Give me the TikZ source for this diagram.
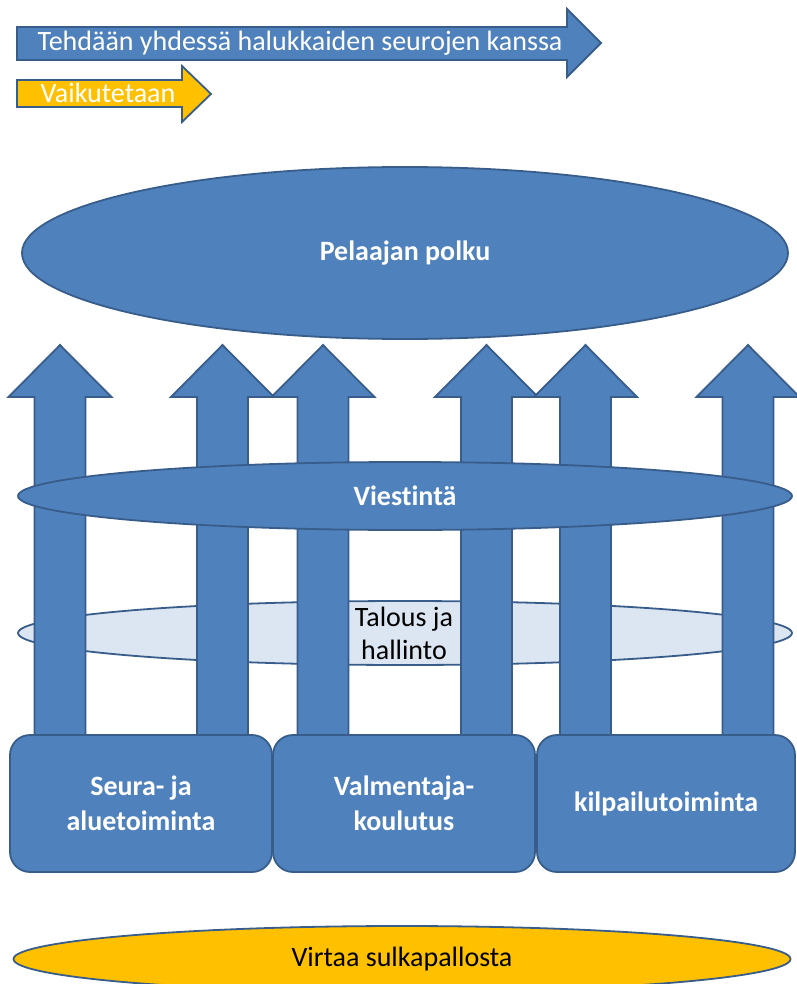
\documentclass[tikz,border=0pt]{standalone}
\usepackage{fontspec}
\setmainfont{Carlito}[Ligatures=NoCommon]
\usetikzlibrary{shapes.geometric}
\definecolor{bfill}{HTML}{4F81BD}
\definecolor{bline}{HTML}{385D8A}
\definecolor{yfill}{HTML}{FFC000}
\definecolor{lfill}{HTML}{DCE6F2}
\tikzset{
  shapesty/.style={fill=bfill, draw=bline, line width=1.8pt, line join=miter},
  bigell/.style={ellipse, shapesty, inner sep=0pt, text=white, font=\fontsize{28}{34}\selectfont\bfseries},
  lightell/.style={ellipse, fill=lfill, draw=bline, line width=1.8pt, inner sep=0pt},
  yell/.style={ellipse, fill=yfill, draw=bline, line width=1.8pt, inner sep=0pt, font=\fontsize{28}{34}\selectfont},
  boxsty/.style={rectangle, rounded corners=20pt, shapesty, inner sep=0pt, text=white, align=center, font=\fontsize{28}{35}\selectfont\bfseries},
  arrtext/.style={text=white, inner sep=0pt, font=\fontsize{28}{34}\selectfont},
}
\begin{document}
\begin{tikzpicture}[x=1pt,y=-1pt]
\useasboundingbox (0,0) rectangle (796,984);
% top horizontal arrows
\path[shapesty] (17,27) -- (567,27) -- (567,9) -- (601,43) -- (567,77) -- (567,60) -- (17,60) -- cycle;
\node[arrtext] (tehd) at (300,43) {Tehdään yhdessä halukkaiden seurojen kanssa};
\path[shapesty, fill=yfill] (17,80) -- (182,80) -- (182,66) -- (211,94) -- (182,122) -- (182,107) -- (17,107) -- cycle;
\node[arrtext] (vaik) at (108,93) {Vaikutetaan};
% Pelaajan polku
\node[bigell, minimum width=766pt, minimum height=172pt] (polku) at (405,253) {Pelaajan polku};
% Talous ja hallinto
\node[lightell, minimum width=774pt, minimum height=64pt] (talous) at (405,633) {};
% upward arrows
\foreach \c in {60,222.5,323,486.5,585.5,748}{
  \path[shapesty] ({\c-25.5},736) -- ({\c-25.5},397) -- ({\c-51.5},397) -- (\c,345) -- ({\c+51.5},397) -- ({\c+25.5},397) -- ({\c+25.5},736) -- cycle;
}
\node[align=center, inner sep=0pt, font=\fontsize{28}{33}\selectfont] (talt) at (404,633) {Talous ja\\hallinto};
% Viestinta
\node[bigell, minimum width=774pt, minimum height=68pt] (viest) at (405,496) {Viestintä};
% boxes
\node[boxsty, minimum width=262pt, minimum height=137pt] (seura) at (141,803.5) {Seura- ja\\aluetoiminta};
\node[boxsty, minimum width=262pt, minimum height=137pt] (valm) at (404,803.5) {Valmentaja-\\koulutus};
\node[boxsty, minimum width=258pt, minimum height=137pt] (kilp) at (666,803.5) {kilpailutoiminta};
% bottom
\node[yell, minimum width=777pt, minimum height=66pt] (virta) at (402,959) {Virtaa sulkapallosta};
\end{tikzpicture}
\end{document}
